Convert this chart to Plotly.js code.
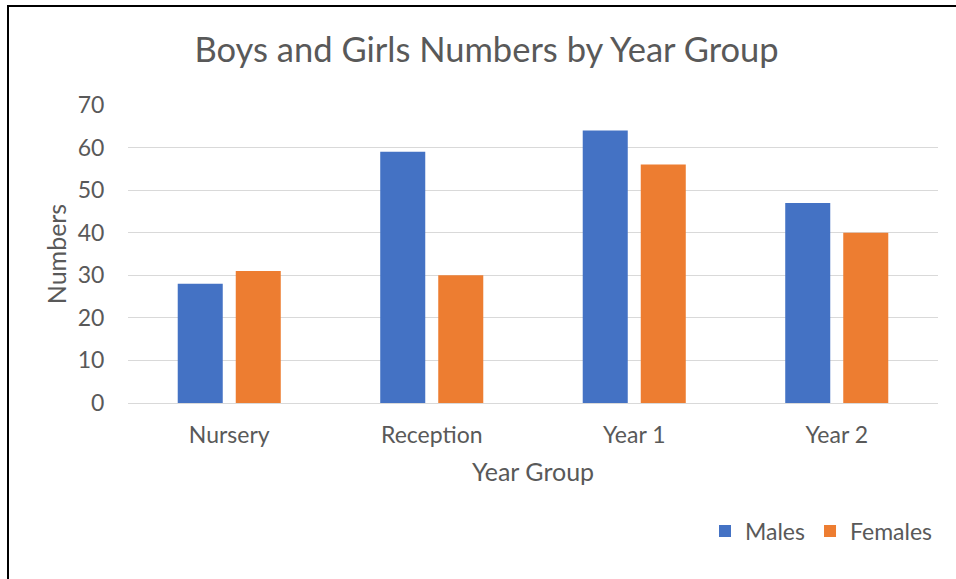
<!DOCTYPE html>
<html><head><meta charset="utf-8">
<script src="https://cdn.plot.ly/plotly-3.0.1.min.js"></script>
<style>
html,body{margin:0;padding:0;background:#fff;}
#frame{position:absolute;left:7px;top:5px;width:949px;height:574px;border-left:2px solid #000;border-top:2px solid #000;box-sizing:border-box;pointer-events:none;z-index:10;}
#chart{position:absolute;left:0;top:0;width:956px;height:579px;}
</style></head>
<body>
<div id="chart"></div><div id="frame"></div>
<script>
const categories = ["Nursery", "Reception", "Year 1", "Year 2"];
const males = [28, 59, 64, 47];
const females = [31, 30, 56, 40];
const yTicks = [0, 10, 20, 30, 40, 50, 60, 70];

const font = "Lato, Carlito, sans-serif";
const data = [
  {type:'bar', name:'Males', x:categories, y:males, marker:{color:'#4472c4'}},
  {type:'bar', name:'Females', x:categories, y:females, marker:{color:'#ed7d31'}}
];
const layout = {
  width:956, height:579,
  margin:{l:128, r:18, t:105, b:176},
  paper_bgcolor:'#fff', plot_bgcolor:'#fff',
  font:{family:font, color:'#595959', size:23},
  title:{text:'Boys and Girls Numbers by Year Group', font:{size:34.5, color:'#595959', family:font}, x:0.509, xref:'container', xanchor:'center', y:0.913, yanchor:'middle', yref:'container'},
  barmode:'group', bargap:0.427, bargroupgap:0.224,
  xaxis:{showgrid:false, showline:true, linecolor:'#d9d9d9', linewidth:1, ticks:'outside', ticklen:11, tickcolor:'rgba(0,0,0,0)', tickfont:{size:23}, title:{text:'Year Group', font:{size:25}, standoff:16}},
  yaxis:{range:[0,70], tickvals:yTicks, showgrid:true, gridcolor:'#d9d9d9', gridwidth:1, zeroline:true, zerolinecolor:'#d9d9d9', ticks:'outside', ticklen:18, tickcolor:'rgba(0,0,0,0)', tickfont:{size:23}, title:{text:'Numbers', font:{size:25}, standoff:3}},
  legend:{orientation:'h', x:1.0, xanchor:'right', y:-0.43, yanchor:'middle', font:{size:23}, itemwidth:30},
  showlegend:true
};
Plotly.newPlot('chart', data, layout, {displayModeBar:false, staticPlot:true});
</script>
</body></html>
